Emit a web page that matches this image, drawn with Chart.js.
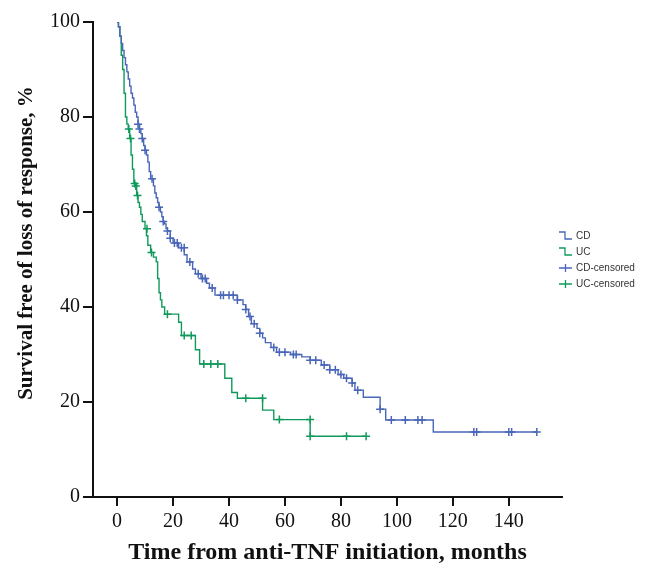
<!DOCTYPE html>
<html>
<head>
<meta charset="utf-8">
<script src="https://cdn.jsdelivr.net/npm/chart.js@4.4.1/dist/chart.umd.min.js"></script>
<style>
  body { margin: 0; background: #fff; }
  canvas { display: block; }
</style>
</head>
<body>
<canvas id="kmChart" width="669" height="568"></canvas>
<script>
// Kaplan-Meier estimates (months, % surviving)
const cdTime = [0, 0.5, 1, 1.5, 2, 2.5, 3, 3.5, 4, 4.5, 5, 5.5, 6, 6.5, 7, 7.5, 8, 8.5, 9, 9.5, 10, 10.5, 11, 11.5, 12, 13, 13.5, 14, 14.5, 15, 15.5, 16, 16.5, 17, 17.5, 18, 19, 20, 22, 24, 25, 27, 28, 30, 32, 33, 35, 43, 45, 46, 47, 48, 50, 51, 52, 53, 55, 57, 62, 66, 69, 73, 76, 79, 81, 84, 85, 88, 94, 96, 113, 150];
const cdSurv = [100, 99, 97, 95.5, 94, 92.5, 91, 89.5, 88, 86.5, 85, 84, 82.5, 81, 80, 78.5, 77.5, 76.5, 75.5, 74, 73, 72, 70.5, 68.5, 67, 65.5, 64, 63, 62, 61, 60, 59, 58, 57.5, 56.5, 56, 54.5, 53.5, 52.5, 51, 49.5, 48, 47, 46, 45, 44, 42.5, 41.5, 40.5, 39.5, 38, 36.5, 35.5, 34.5, 33.5, 32.5, 31.5, 30.5, 30, 29.5, 28.8, 27.8, 26.8, 25.8, 25, 24, 22.5, 21, 18.5, 16.2, 13.7, 13.7];

const ucTime = [0, 0.5, 1, 1.5, 2, 2.5, 3, 3.5, 4, 4.5, 5, 5.5, 6, 7, 7.5, 8, 8.5, 9, 10, 10.5, 11, 12, 13, 14, 14.5, 15, 15.5, 16, 17, 22, 23, 28, 29.5, 38.5, 41, 43, 52, 56, 69, 89];
const ucSurv = [100, 99, 97, 93, 90, 85, 80, 78.5, 77.5, 75.5, 72, 69, 66, 63.5, 62, 61, 59.5, 58, 56.5, 55, 53, 51.5, 50.5, 49.5, 46, 43, 41.5, 40, 38.5, 36.8, 34, 31, 28, 25, 22, 20.8, 18.3, 16.3, 12.8, 12.8];

// censored observations
const cdCensTime = [7.5, 8, 9, 10, 12.5, 15, 16.5, 18, 19, 20.5, 21.5, 23, 24, 26, 29, 30.5, 31.5, 34, 37, 38, 40, 41.5, 43, 46, 47.5, 49, 51, 56, 58, 60, 63, 64, 69, 71, 74, 76, 78, 80, 82, 84, 86, 94, 98, 103, 107.5, 109, 127.5, 128.5, 140, 141, 150];
const cdCensSurv = [78.5, 77.5, 75.5, 73, 67, 61, 58, 56, 54.5, 53.5, 53.5, 52.5, 52.5, 49.5, 47, 46, 46, 44, 42.5, 42.5, 42.5, 42.5, 41.5, 39.5, 38, 36.5, 34.5, 31.5, 30.5, 30.5, 30, 30, 28.8, 28.8, 27.8, 26.8, 26.8, 25.8, 25, 24, 22.5, 18.5, 16.2, 16.2, 16.2, 16.2, 13.7, 13.7, 13.7, 13.7, 13.7];

const ucCensTime = [4.2, 4.8, 6.3, 6.7, 7.3, 10.7, 12.3, 18, 24, 26.5, 31, 33.5, 36, 46, 52, 58, 69, 69, 82, 89];
const ucCensSurv = [77.5, 75.5, 66, 65.5, 63.5, 56.5, 51.5, 38.5, 34, 34, 28, 28, 28, 20.8, 20.8, 16.3, 16.3, 12.8, 12.8, 12.8];

const xTicks = [0, 20, 40, 60, 80, 100, 120, 140];
const yTicks = [0, 20, 40, 60, 80, 100];

const yTitle = 'Survival free of loss of response, %';

const blue = '#4a66b8';
const green = '#0f9a5c';

function pts(xs, ys) {
  return xs.map((x, i) => ({ x: x, y: ys[i] }));
}

// legend at the right of the plot (Prism style) + rotated y title
const sideLegend = {
  id: 'sideLegend',
  afterDraw(chart) {
    const ctx = chart.ctx;
    const x0 = 559;
    let y = 236;
    ctx.save();
    ctx.font = '10px "Liberation Sans", Arial, sans-serif';
    ctx.textBaseline = 'middle';
    chart.data.datasets.forEach(ds => {
      ctx.strokeStyle = ds.borderColor;
      ctx.lineWidth = 1.3;
      ctx.beginPath();
      if (ds.type === 'line') {
        ctx.moveTo(x0, y - 4);
        ctx.lineTo(x0 + 6, y - 4);
        ctx.lineTo(x0 + 6, y + 3);
        ctx.lineTo(x0 + 13, y + 3);
      } else {
        ctx.moveTo(x0, y);
        ctx.lineTo(x0 + 13, y);
        ctx.moveTo(x0 + 6.5, y - 4);
        ctx.lineTo(x0 + 6.5, y + 4);
      }
      ctx.stroke();
      ctx.fillStyle = '#333';
      ctx.fillText(ds.label, x0 + 17, y);
      y += 16;
    });

    // y axis title
    ctx.translate(27, 243);
    ctx.rotate(-Math.PI / 2);
    ctx.font = 'bold 21px "Liberation Serif", "Times New Roman", serif';
    ctx.fillStyle = '#111';
    ctx.textAlign = 'center';
    ctx.fillText(yTitle, 0, 0);
    ctx.restore();
  }
};

const axisFont = { family: '"Liberation Serif", "Times New Roman", serif', size: 20 };
const titleFont = { family: '"Liberation Serif", "Times New Roman", serif', size: 24, weight: 'bold' };

new Chart(document.getElementById('kmChart'), {
  data: {
    datasets: [
      {
        type: 'line', label: 'CD', data: pts(cdTime, cdSurv),
        borderColor: blue, borderWidth: 1.4, stepped: true, pointRadius: 0, fill: false
      },
      {
        type: 'line', label: 'UC', data: pts(ucTime, ucSurv),
        borderColor: green, borderWidth: 1.4, stepped: true, pointRadius: 0, fill: false
      },
      {
        type: 'scatter', label: 'CD-censored', data: pts(cdCensTime, cdCensSurv),
        borderColor: blue, backgroundColor: blue, pointStyle: 'cross', pointRadius: 4, borderWidth: 1.5
      },
      {
        type: 'scatter', label: 'UC-censored', data: pts(ucCensTime, ucCensSurv),
        borderColor: green, backgroundColor: green, pointStyle: 'cross', pointRadius: 4, borderWidth: 1.5
      }
    ]
  },
  options: {
    responsive: false,
    animation: false,
    layout: { padding: { top: 22, right: 107, left: 0, bottom: 0 } },
    plugins: {
      legend: { display: false },
      tooltip: { enabled: false }
    },
    scales: {
      x: {
        type: 'linear',
        min: -8.6,
        max: 159,
        afterBuildTicks: scale => { scale.ticks = xTicks.map(v => ({ value: v })); },
        afterFit: scale => { scale.height = 71; },
        grid: { drawOnChartArea: false, drawTicks: true, tickLength: 9, color: '#111', lineWidth: 2 },
        border: { display: true, color: '#111', width: 2 },
        ticks: { font: axisFont, color: '#111', padding: 4, maxRotation: 0 },
        title: { display: true, text: 'Time from anti-TNF initiation, months', font: titleFont, color: '#111', padding: { top: 0, bottom: 1 } }
      },
      y: {
        min: 0,
        max: 100,
        afterBuildTicks: scale => { scale.ticks = yTicks.map(v => ({ value: v })); },
        afterFit: scale => { scale.width = 93; },
        grid: { drawOnChartArea: false, drawTicks: true, tickLength: 10, color: '#111', lineWidth: 2 },
        border: { display: true, color: '#111', width: 2 },
        ticks: { font: axisFont, color: '#111', padding: 3 }
      }
    }
  },
  plugins: [sideLegend]
});
</script>
</body>
</html>
